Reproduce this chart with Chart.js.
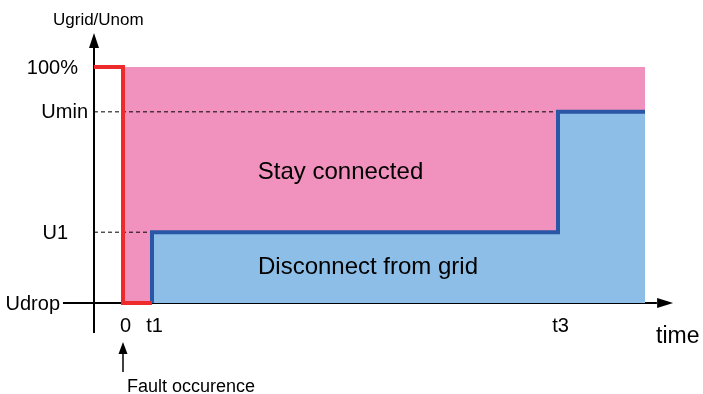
<!DOCTYPE html>
<html>
<head>
<meta charset="utf-8">
<script src="https://cdn.jsdelivr.net/npm/chart.js@4/dist/chart.umd.min.js"></script>
<style>
  html, body { margin: 0; padding: 0; background: #fff; }
  canvas { display: block; }
</style>
</head>
<body>
<canvas id="fault-ride-through" width="703" height="394"></canvas>
<script>
// tick values (time in arbitrary units, voltage in % of nominal)
const timeTicks = [0, 1, 15];
const timeTickLabels = ['0', 't1', 't3'];
const voltageTicks = [0, 30, 81, 100];
const voltageTickLabels = ['Udrop', 'U1', 'Umin', '100%'];

// red: grid voltage during the fault
const faultTime = [-1, 0, 0, 1];
const faultVoltage = [100, 100, 0, 0];

// blue: disconnect limit curve
const limitTime = [1, 1, 15, 15, 18];
const limitVoltage = [0, 30, 30, 81, 81];

// pink: stay connected region
const regionTime = [0, 18];
const regionVoltage = [100, 100];

// axis extents
const axisTime = -1;
const axisTimeStart = -2.07;
const axisTimeEnd = 18.97;
const axisVoltageStart = -12.7;
const axisVoltageEnd = 114.4;

const FONT = '"Liberation Sans", Arial, sans-serif';
const PINK = '#F092BD';
const BLUE_FILL = '#8CBEE7';
const BLUE_LINE = '#2A56A6';
const RED = '#EE2B2B';

function toPoints(xs, ys) {
  return xs.map((x, i) => ({ x: x, y: ys[i] }));
}

function plainLine(points, color, width, dash) {
  return {
    data: points,
    borderColor: color,
    borderWidth: width,
    borderDash: dash || [],
    fill: false,
    pointRadius: 0,
    tension: 0,
    borderJoinStyle: 'miter',
    borderCapStyle: 'butt',
  };
}

const tU1 = voltageTicks[1];
const tUmin = voltageTicks[2];
const t1 = timeTicks[1];
const t3 = timeTicks[2];

const datasets = [
  plainLine(toPoints(faultTime, faultVoltage), RED, 4),
  {
    data: toPoints(limitTime, limitVoltage),
    borderColor: BLUE_LINE,
    borderWidth: 4,
    backgroundColor: BLUE_FILL,
    fill: 'origin',
    pointRadius: 0,
    tension: 0,
    borderJoinStyle: 'miter',
  },
  plainLine(toPoints([axisTimeStart, axisTimeEnd - 0.56], [0, 0]), '#000', 2),
  plainLine(toPoints([axisTime, axisTime], [axisVoltageStart, axisVoltageEnd - 6]), '#000', 2),
  plainLine(toPoints([axisTime, t3], [tUmin, tUmin]), '#000', 1, [4, 3]),
  plainLine(toPoints([axisTime, t1], [tU1, tU1]), '#000', 1, [4, 3]),
  plainLine(toPoints([t3, t3], [tU1, 0]), '#000', 1, [4, 3]),
  {
    data: toPoints(regionTime, regionVoltage),
    borderWidth: 0,
    borderColor: 'rgba(0,0,0,0)',
    backgroundColor: PINK,
    fill: 'origin',
    pointRadius: 0,
    tension: 0,
  },
];

function arrowHead(ctx, tipX, tipY, dirX, dirY, len, half) {
  const bx = tipX - dirX * len;
  const by = tipY - dirY * len;
  ctx.beginPath();
  ctx.moveTo(tipX, tipY);
  ctx.lineTo(bx - dirY * half, by + dirX * half);
  ctx.lineTo(bx + dirY * half, by - dirX * half);
  ctx.closePath();
  ctx.fill();
}

const yLabelRight = { 'Udrop': 60, 'U1': 68, 'Umin': 88, '100%': 78 };

const decorPlugin = {
  id: 'decor',
  afterDatasetsDraw(chart) {
    const { ctx, scales: { x, y } } = chart;
    ctx.save();
    ctx.fillStyle = '#000';
    ctx.strokeStyle = '#000';

    // axis arrows
    arrowHead(ctx, x.getPixelForValue(axisTime), y.getPixelForValue(axisVoltageEnd), 0, -1, 15, 5);
    arrowHead(ctx, x.getPixelForValue(axisTimeEnd), y.getPixelForValue(0), 1, 0, 16, 5);

    // y tick labels
    ctx.font = '20px ' + FONT;
    ctx.textAlign = 'right';
    ctx.textBaseline = 'middle';
    voltageTicks.forEach((v, i) => {
      const lbl = voltageTickLabels[i];
      ctx.fillText(lbl, yLabelRight[lbl], y.getPixelForValue(v) + 1);
    });

    // x tick labels
    ctx.textAlign = 'center';
    const y0 = y.getPixelForValue(0);
    timeTicks.forEach((t, i) => {
      ctx.fillText(timeTickLabels[i], x.getPixelForValue(t) + 2.5, y0 + 23);
    });

    // axis titles
    ctx.textAlign = 'left';
    ctx.textBaseline = 'alphabetic';
    ctx.font = '17px ' + FONT;
    ctx.fillText('Ugrid/Unom', 53, 25);
    ctx.font = '23px ' + FONT;
    ctx.fillText('time', 656, y0 + 40);

    // region labels
    ctx.textAlign = 'center';
    ctx.textBaseline = 'middle';
    ctx.font = '24px ' + FONT;
    ctx.fillText('Stay connected', x.getPixelForValue((0 + t3) / 2), y.getPixelForValue((tU1 + tUmin) / 2));
    ctx.fillText('Disconnect from grid', x.getPixelForValue((t1 + t3) / 2) + 13, y.getPixelForValue(tU1 / 2));

    // fault occurence arrow
    const fx = x.getPixelForValue(0);
    ctx.lineWidth = 1.5;
    ctx.beginPath();
    ctx.moveTo(fx, y0 + 69);
    ctx.lineTo(fx, y0 + 48);
    ctx.stroke();
    arrowHead(ctx, fx, y0 + 39, 0, -1, 12, 4.5);
    ctx.font = '18px ' + FONT;
    ctx.textAlign = 'left';
    ctx.textBaseline = 'alphabetic';
    ctx.fillText('Fault occurence', fx + 4, y0 + 89);
    ctx.restore();
  },
};

// 29 px per time unit, 2.36 px per voltage unit; origin at (123, 303)
new Chart(document.getElementById('fault-ride-through'), {
  type: 'line',
  data: { datasets: datasets },
  options: {
    responsive: false,
    animation: false,
    devicePixelRatio: 1,
    layout: { padding: 0 },
    plugins: { legend: { display: false }, tooltip: { enabled: false } },
    scales: {
      x: { type: 'linear', display: false, min: -123 / 29, max: 580 / 29 },
      y: { type: 'linear', display: false, min: -91 / 2.36, max: 303 / 2.36 },
    },
  },
  plugins: [decorPlugin],
});
</script>
</body>
</html>
